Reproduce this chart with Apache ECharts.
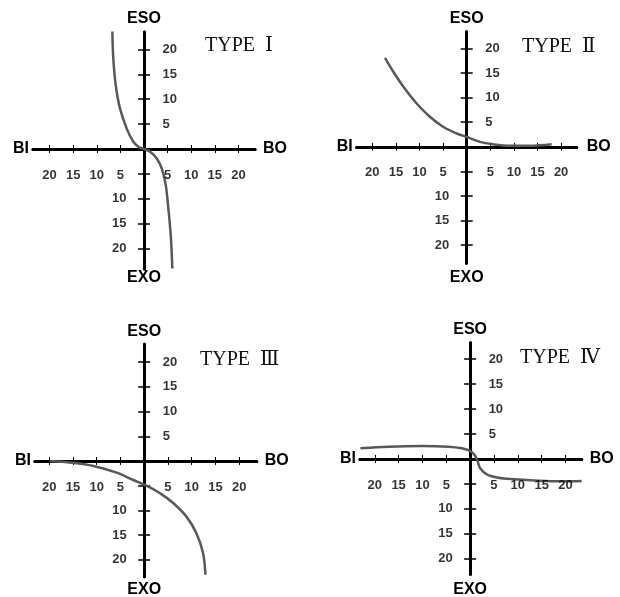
<!DOCTYPE html>
<html>
<head>
<meta charset="utf-8">
<script src="https://cdn.jsdelivr.net/npm/echarts@6/dist/echarts.min.js"></script>
<style>
  html, body { margin: 0; padding: 0; background: #ffffff; }
  #chart { width: 620px; height: 597px; }
</style>
</head>
<body>
<div id="chart"></div>
<script>
// ---- data ----
const titles = ['TYPE  Ⅰ', 'TYPE  Ⅱ', 'TYPE  Ⅲ', 'TYPE  Ⅳ'];
const tickValues = [-20, -15, -10, -5, 5, 10, 15, 20];
const xLabelValues = [-20, -15, -10, -5, 5, 10, 15, 20];
const upperYLabels = [5, 10, 15, 20];
const lowerYLabels = [-10, -15, -20];
const axisNames = { xStart: 'BI', xEnd: 'BO', yStart: 'EXO', yEnd: 'ESO' };

const typeI = [[-6.7, 23.6], [-6.5, 18.2], [-6.0, 12.9], [-5.1, 8.2], [-3.7, 4.2], [-2.3, 1.5],
  [-1.2, 0.46], [0, 0], [1.3, -0.54], [2.7, -1.9], [3.75, -3.9], [4.6, -7.2], [5.15, -11.9],
  [5.66, -17.3], [6.0, -24.0]];
const typeII = [[-17.3, 18.1], [-15.5, 15.2], [-13.4, 12.2], [-10.6, 8.8], [-7.8, 6.1],
  [-5.0, 4.07], [-2.1, 2.7], [0, 2.0], [2.8, 1.0], [5.6, 0.5], [9.2, 0.2], [13.4, 0.2], [18.0, 0.5]];
const typeIII = [[-19.9, 0], [-15.3, -0.34], [-10.7, -1.0], [-5.8, -2.36], [-2.3, -3.84],
  [0.15, -4.85], [3.3, -6.5], [6.1, -8.5], [8.9, -11.25], [11.0, -14.6], [12.4, -18.6], [12.9, -23.0]];
const typeIV = [[-23.0, 2.14], [-17.1, 2.46], [-10.1, 2.6], [-4.55, 2.46], [-1.74, 2.14], [0, 1.6],
  [1.05, 0.66], [1.6, -0.54], [2.1, -1.86], [3.5, -3.06], [5.9, -3.74], [9.4, -4.06],
  [14.3, -4.34], [19.2, -4.46], [23.4, -4.4]];
const curves = [typeI, typeII, typeIII, typeIV];

// ---- layout (positions / extents of each panel) ----
const layout = [
  { left: 33, top: 32, width: 222, height: 237, xMin: -23.5, xMax: 23.5, yMin: -24.1, yMax: 23.5,
    tl: 205, tt: 36, gapBO: 8, gapEXO: 1, gapESO: 5 },
  { left: 356.7, top: 31.7, width: 220, height: 231.6, xMin: -23.3, xMax: 23.3, yMin: -23.7, yMax: 23.4,
    tl: 522, tt: 37, gapBO: 10, gapEXO: 6, gapESO: 5 },
  { left: 35, top: 344.3, width: 221.7, height: 232.4, xMin: -23.0, xMax: 23.7, yMin: -23.4, yMax: 23.6,
    tl: 200, tt: 350, gapBO: 8, gapEXO: 5, gapESO: 5 },
  { left: 360, top: 342.7, width: 221.7, height: 231.6, xMin: -23.1, xMax: 23.4, yMin: -23.1, yMax: 23.3,
    tl: 520, tt: 348, gapBO: 8, gapEXO: 7, gapESO: 5 }
];

const labelStyle = { color: '#000', fontFamily: 'Liberation Sans, Arial, sans-serif', fontWeight: 'bold', fontSize: 13 };
const nameStyle = { color: '#000', fontFamily: 'Liberation Sans, Arial, sans-serif', fontWeight: 'bold', fontSize: 16 };
const lineStyleAxis = { color: '#000', width: 3 };

function labelSeries(i, points, position, distance, pick) {
  return {
    type: 'scatter', xAxisIndex: 2 * i, yAxisIndex: 2 * i, silent: true, clip: false,
    symbol: 'circle', symbolSize: 1, data: points, z: 6,
    itemStyle: { color: 'rgba(0,0,0,0)' },
    label: Object.assign({
      show: true, position: position, distance: distance,
      formatter: p => String(Math.abs(p.value[pick]))
    }, labelStyle),
    emphasis: { disabled: true }, tooltip: { show: false }
  };
}

const grid = [], xAxis = [], yAxis = [], series = [], title = [];
layout.forEach((L, i) => {
  grid.push({ left: L.left, top: L.top, width: L.width, height: L.height, containLabel: false, outerBoundsMode: 'none' });
  const xb = { type: 'value', gridIndex: i, min: L.xMin, max: L.xMax, splitLine: { show: false }, axisLabel: { show: false } };
  xAxis.push(Object.assign({}, xb, {
    position: 'bottom',
    axisLine: { show: true, onZero: true, onZeroAxisIndex: 2 * i, lineStyle: lineStyleAxis },
    axisTick: { show: true, length: 4, customValues: tickValues, lineStyle: { color: '#000', width: 1 } },
    name: axisNames.xEnd, nameLocation: 'end', nameGap: L.gapBO, nameTextStyle: nameStyle
  }));
  xAxis.push(Object.assign({}, xb, {
    position: 'top',
    axisLine: { show: true, onZero: true, onZeroAxisIndex: 2 * i + 1, lineStyle: lineStyleAxis },
    axisTick: { show: true, length: 4, customValues: tickValues, lineStyle: { color: '#000', width: 1 } },
    name: axisNames.xStart, nameLocation: 'start', nameGap: 4, nameTextStyle: nameStyle
  }));
  const yb = { type: 'value', gridIndex: i, min: L.yMin, max: L.yMax, splitLine: { show: false }, axisLabel: { show: false } };
  yAxis.push(Object.assign({}, yb, {
    position: 'left',
    axisLine: { show: true, onZero: true, onZeroAxisIndex: 2 * i, lineStyle: lineStyleAxis },
    axisTick: { show: true, length: 6, customValues: tickValues, lineStyle: { color: '#000', width: 1.5 } },
    name: axisNames.yStart, nameLocation: 'start', nameGap: L.gapEXO, nameTextStyle: nameStyle
  }));
  yAxis.push(Object.assign({}, yb, {
    position: 'right',
    axisLine: { show: true, onZero: true, onZeroAxisIndex: 2 * i + 1, lineStyle: lineStyleAxis },
    axisTick: { show: true, length: 6, customValues: tickValues, lineStyle: { color: '#000', width: 1.5 } },
    name: axisNames.yEnd, nameLocation: 'end', nameGap: L.gapESO, nameTextStyle: nameStyle
  }));
  series.push({
    type: 'line', xAxisIndex: 2 * i, yAxisIndex: 2 * i, data: curves[i],
    smooth: 0.35, showSymbol: false, symbol: 'none', clip: false,
    lineStyle: { color: '#585858', width: 2.5 }, z: 5
  });
  series.push(labelSeries(i, xLabelValues.map(v => [v, 0]), 'bottom', 19, 0));
  series.push(labelSeries(i, upperYLabels.map(v => [0, v]), 'right', 18, 1));
  series.push(labelSeries(i, lowerYLabels.map(v => [0, v]), 'left', 17, 1));
  title.push({
    text: titles[i], left: L.tl, top: L.tt, padding: 0,
    textStyle: { fontFamily: 'Liberation Serif, DejaVu Serif, Times New Roman, serif', fontWeight: 'normal', fontSize: 20, color: '#111' }
  });
});

const chart = echarts.init(document.getElementById('chart'), null, { renderer: 'canvas' });
chart.setOption({ animation: false, backgroundColor: '#ffffff', title, grid, xAxis, yAxis, series });
</script>
</body>
</html>
